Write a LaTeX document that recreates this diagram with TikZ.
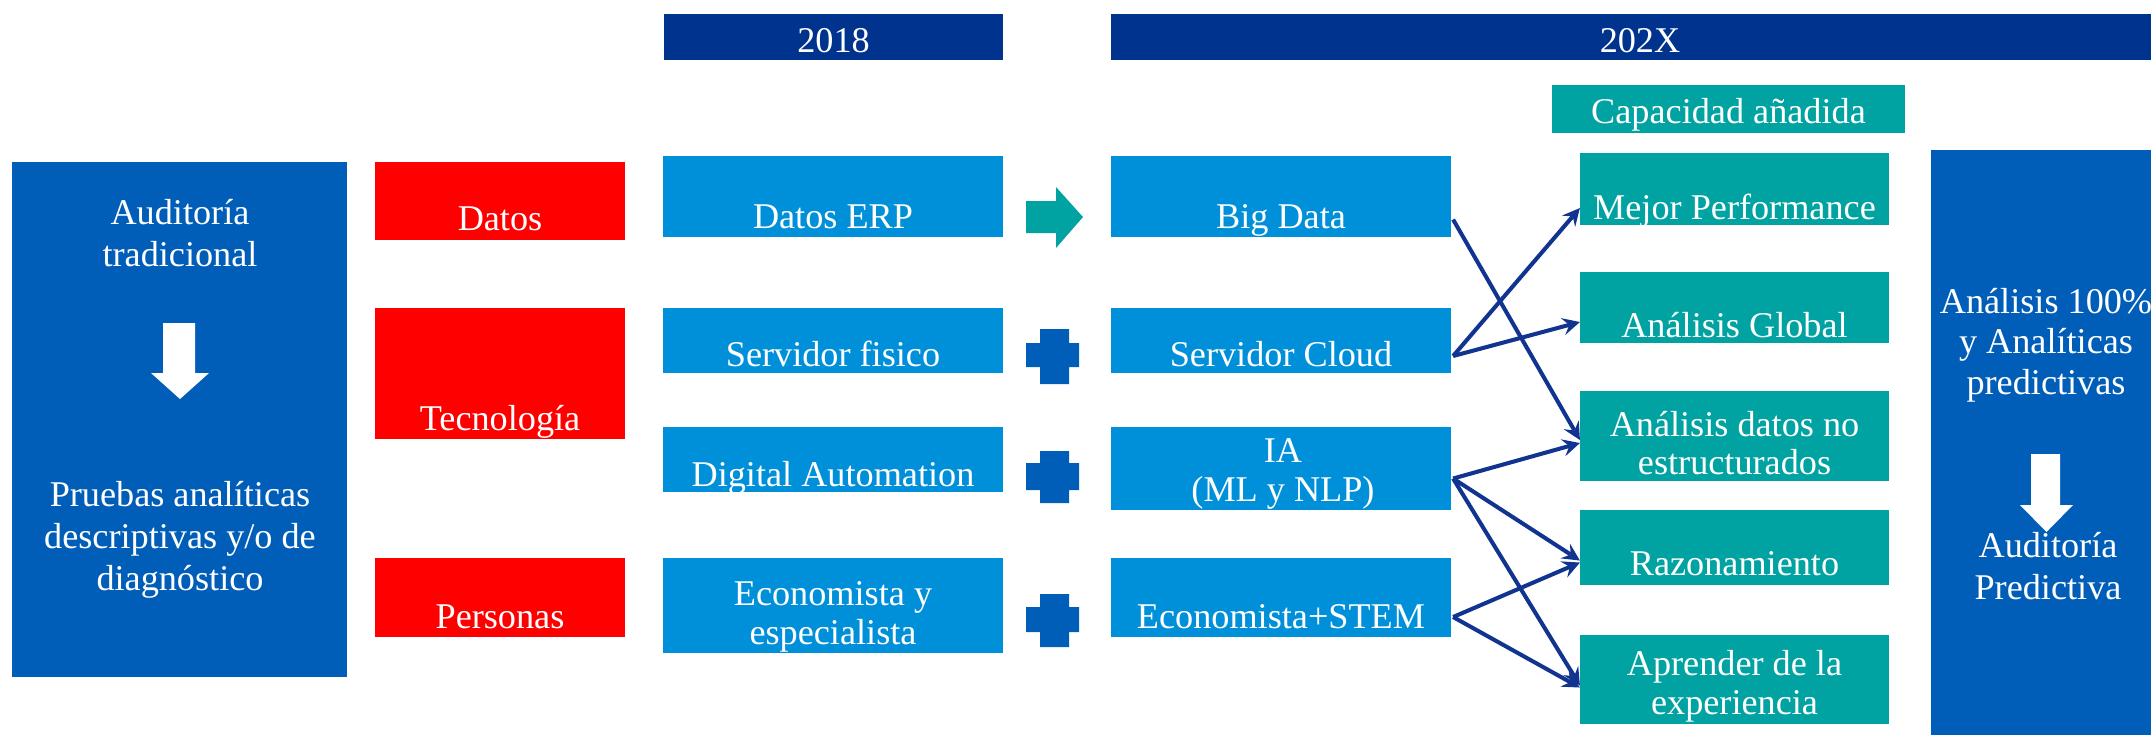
\documentclass[tikz,border=0pt]{standalone}
\usepackage{fontspec}
\setmainfont{Liberation Serif}
\usetikzlibrary{calc}
\definecolor{navybar}{RGB}{0,51,141}
\definecolor{lightbox}{RGB}{0,144,218}
\definecolor{midblue}{RGB}{0,94,184}
\definecolor{tealbox}{RGB}{0,163,161}
\definecolor{linkblue}{RGB}{18,52,145}
\begin{document}
\begin{tikzpicture}[x=0.01cm,y=-0.01cm,
    cell/.style={inner sep=0pt,outer sep=0pt},
    redcell/.style={cell,fill=red,minimum width=2.5cm},
    techcell/.style={cell,fill=lightbox,minimum width=3.4cm},
    gaincell/.style={cell,fill=tealbox,minimum width=3.09cm},
    txt/.style={text=white,inner sep=0pt,align=center,font=\fontsize{10.3}{11}\selectfont},
    link/.style={draw=linkblue,line width=1.15pt,-stealth}]
    \useasboundingbox (0,0) rectangle (2151,735);

    % year bars
    \node[cell,fill=navybar,minimum width=3.39cm,minimum height=0.46cm] (y2018) at (833.5,37) {};
    \node[cell,fill=navybar,minimum width=10.4cm,minimum height=0.46cm] (y202x) at (1631,37) {};
    \node[txt,anchor=base] (y2018t) at (833.5,52) {2018};
    \node[txt,anchor=base] (y202xt) at (1640,52) {202X};
    \node[cell,fill=tealbox,minimum width=3.53cm,minimum height=0.48cm] (cap) at (1728.5,109) {};
    \node[txt,anchor=base] (capt) at (1728.5,123) {Capacidad añadida};

    % left and right columns
    \node[cell,fill=midblue,minimum width=3.35cm,minimum height=5.15cm] (trad) at (179.5,419.5) {};
    \node[txt,font=\fontsize{10.3}{12}\selectfont] (tradt) at (180,233) {Auditoría\\tradicional};
    \fill[white] (163,323) -- (195,323) -- (195,373) -- (209,373) -- (180,399) -- (151,373) -- (163,373) -- cycle;
    \node[txt,font=\fontsize{10.3}{12}\selectfont] (pruebas) at (180,540) {Pruebas analíticas\\descriptivas y/o de\\diagnóstico};

    \node[cell,fill=midblue,minimum width=2.2cm,minimum height=5.85cm] (pred) at (2041,442.5) {};
    \node[txt,font=\fontsize{10.3}{11.5}\selectfont] (predt) at (2046,345) {Análisis 100\%\\y Analíticas\\predictivas};
    \fill[white] (2031,454) -- (2060,454) -- (2060,505) -- (2073,505) -- (2046.5,532) -- (2020,505) -- (2031,505) -- cycle;
    \node[txt,font=\fontsize{10.3}{12}\selectfont] (audpred) at (2048,566) {Auditoría\\Predictiva};

    % categories
    \node[redcell,minimum height=0.78cm] (datos) at (500,201) {};
    \node[redcell,minimum height=1.31cm] (tecno) at (500,373.5) {};
    \node[redcell,minimum height=0.79cm] (person) at (500,597.5) {};
    \node[txt,anchor=base] (datost) at (500,230) {Datos};
    \node[txt,anchor=base] (tecnot) at (500,430) {Tecnología};
    \node[txt,anchor=base] (persont) at (500,628) {Personas};

    % 2018
    \node[techcell,minimum height=0.81cm] (erp) at (833,196.5) {};
    \node[techcell,minimum height=0.65cm] (sfis) at (833,340.5) {};
    \node[techcell,minimum height=0.65cm] (dauto) at (833,459.5) {};
    \node[techcell,minimum height=0.95cm] (econ) at (833,605.5) {};
    \node[txt,anchor=base] (erpt) at (833,228) {Datos ERP};
    \node[txt,anchor=base] (sfist) at (833,366) {Servidor fisico};
    \node[txt,anchor=base] (dautot) at (833,486) {Digital Automation};
    \node[txt] (econt) at (833,617) {Economista y\\especialista};

    % arrow and pluses
    \fill[tealbox] (1026,201) -- (1056,201) -- (1056,187) -- (1083,217) -- (1056,248) -- (1056,233) -- (1026,233) -- cycle;
    \fill[midblue] (1040,329) rectangle (1069,384) (1026,343) rectangle (1079,367);
    \fill[midblue] (1040,451) rectangle (1069,503) (1026,463) rectangle (1079,490);
    \fill[midblue] (1040,594) rectangle (1069,647) (1026,607) rectangle (1079,632);

    % 202X
    \node[techcell,minimum height=0.81cm] (bigd) at (1281,196.5) {};
    \node[techcell,minimum height=0.65cm] (scloud) at (1281,340.5) {};
    \node[techcell,minimum height=0.83cm] (ia) at (1281,468.5) {};
    \node[techcell,minimum height=0.79cm] (estem) at (1281,597.5) {};
    \node[txt,anchor=base] (bigdt) at (1281,228) {Big Data};
    \node[txt,anchor=base] (scloudt) at (1281,366) {Servidor Cloud};
    \node[txt] (iat) at (1283,474) {IA\\(ML y NLP)};
    \node[txt,anchor=base] (estemt) at (1281,628) {Economista+STEM};

    % capacidad añadida
    \node[gaincell,minimum height=0.72cm] (mejor) at (1734.5,189) {};
    \node[gaincell,minimum height=0.71cm] (aglob) at (1734.5,307.5) {};
    \node[gaincell,minimum height=0.90cm] (adatos) at (1734.5,436) {};
    \node[gaincell,minimum height=0.75cm] (razon) at (1734.5,547.5) {};
    \node[gaincell,minimum height=0.89cm] (aprend) at (1734.5,679.5) {};
    \node[txt,anchor=base] (mejort) at (1734.5,219) {Mejor Performance};
    \node[txt,anchor=base] (aglobt) at (1734.5,337) {Análisis Global};
    \node[txt] (adatost) at (1734.5,443) {Análisis datos no\\estructurados};
    \node[txt,anchor=base] (razont) at (1734.5,575) {Razonamiento};
    \node[txt] (aprendt) at (1734.5,686) {Aprender de la\\experiencia};

    \draw[link] ($(bigd.east)+(2,23)$) -- ($(adatos.west)+(0,4)$);
    \draw[link] ($(scloud.east)+(2,15.5)$) -- ($(mejor.west)+(0,19)$);
    \draw[link] ($(scloud.east)+(2,15.5)$) -- ($(aglob.west)+(0,14.5)$);
    \draw[link] ($(ia.east)+(2,10)$) -- ($(adatos.west)+(0,7)$);
    \draw[link] ($(ia.east)+(2,10)$) -- ($(razon.west)+(0,13)$);
    \draw[link] ($(ia.east)+(2,10)$) -- ($(aprend.west)+(0,6)$);
    \draw[link] ($(estem.east)+(2,19.5)$) -- ($(razon.west)+(0,15)$);
    \draw[link] ($(estem.east)+(2,19.5)$) -- ($(aprend.west)+(0,8)$);
\end{tikzpicture}
\end{document}
